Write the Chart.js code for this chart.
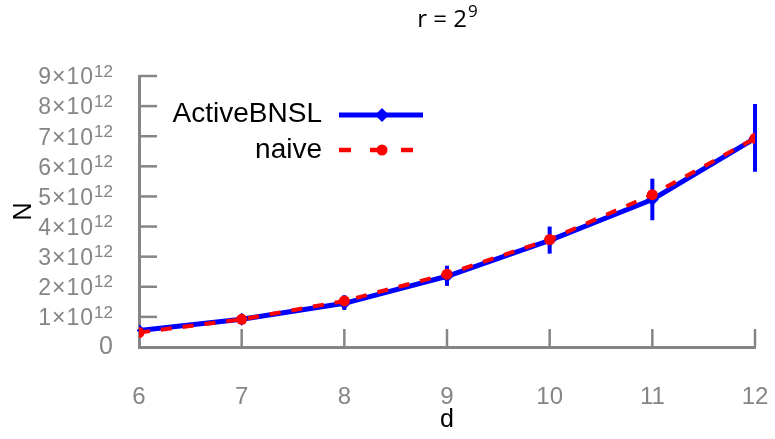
<!DOCTYPE html>
<html>
<head>
<meta charset="utf-8">
<script src="https://cdn.jsdelivr.net/npm/chart.js"></script>
<style>
  html, body { margin: 0; padding: 0; background: #fff; }
  #wrap { width: 775px; height: 439px; position: relative; }
</style>
</head>
<body>
<div id="wrap"><canvas id="chart"></canvas></div>
<script>
const dValues = [6, 7, 8, 9, 10, 11, 12];
const activeBNSL = [0.55e12, 0.92e12, 1.45e12, 2.35e12, 3.54e12, 4.9e12, 6.93e12];
const activeLow = [0.52e12, 0.89e12, 1.23e12, 2.03e12, 3.1e12, 4.21e12, 5.82e12];
const activeHigh = [0.58e12, 0.95e12, 1.72e12, 2.7e12, 4.0e12, 5.59e12, 8.07e12];
const naive = [0.48e12, 0.92e12, 1.53e12, 2.42e12, 3.57e12, 5.06e12, 6.93e12];
const yTickMantissas = [0, 1, 2, 3, 4, 5, 6, 7, 8, 9];

const GRAY = "#858585";
const SANS = "'Liberation Sans', Arial, sans-serif";

const toPoints = (ys) => dValues.map((d, i) => ({ x: d, y: ys[i] }));

// error bars for ActiveBNSL, drawn under the lines
const errorBarPlugin = {
    id: "errorBars",
    beforeDatasetsDraw(chart) {
        const { ctx, scales } = chart;
        ctx.save();
        ctx.strokeStyle = "#0000ff";
        ctx.lineWidth = 4;
        dValues.forEach((d, i) => {
            const x = scales.x.getPixelForValue(d);
            ctx.beginPath();
            ctx.moveTo(x, scales.y.getPixelForValue(activeLow[i]));
            ctx.lineTo(x, scales.y.getPixelForValue(activeHigh[i]));
            ctx.stroke();
        });
        ctx.restore();
    },
};

// inward ticks, y labels with exponents, title and legend
const decorPlugin = {
    id: "decor",
    afterDraw(chart) {
        const { ctx, scales, chartArea } = chart;
        const xs = scales.x, ys = scales.y;
        ctx.save();

        ctx.strokeStyle = GRAY;
        ctx.lineWidth = 2.5;
        ys.ticks.forEach((t) => {
            if (t.value === 0) return;
            const y = ys.getPixelForValue(t.value);
            ctx.beginPath();
            ctx.moveTo(chartArea.left, y);
            ctx.lineTo(chartArea.left + 18, y);
            ctx.stroke();
        });
        xs.ticks.forEach((t) => {
            if (t.value === dValues[0]) return;
            const x = xs.getPixelForValue(t.value);
            ctx.beginPath();
            ctx.moveTo(x, chartArea.bottom);
            ctx.lineTo(x, chartArea.bottom - 18);
            ctx.stroke();
        });

        // y tick labels
        ctx.fillStyle = GRAY;
        ctx.textBaseline = "middle";
        ctx.textAlign = "right";
        const right = 113;
        ys.ticks.forEach((t) => {
            const y = ys.getPixelForValue(t.value);
            const m = yTickMantissas[Math.round(t.value / 1e12)];
            if (m === 0) {
                ctx.font = "25px " + SANS;
                ctx.fillText("0", right, y);
                return;
            }
            ctx.font = "17px " + SANS;
            const sup = "12";
            const w = ctx.measureText(sup).width;
            ctx.fillText(sup, right, y - 4);
            ctx.font = "23px " + SANS;
            ctx.letterSpacing = "1px";
            ctx.fillText(m + "\u00d710", right - w, y + 2);
            ctx.letterSpacing = "0px";
        });

        // title r = 2^9
        ctx.fillStyle = "#000";
        ctx.textAlign = "left";
        ctx.font = "24px 'Open Sans', sans-serif";
        const base = "r = 2";
        const bw = ctx.measureText(base).width;
        ctx.font = "17px 'Open Sans', sans-serif";
        const ew = ctx.measureText("9").width;
        const tx = 447 - (bw + ew) / 2;
        ctx.font = "24px 'Open Sans', sans-serif";
        ctx.fillText(base, tx, 20);
        ctx.font = "17px 'Open Sans', sans-serif";
        ctx.fillText("9", tx + bw + 1, 12);

        // legend
        ctx.font = "28px " + SANS;
        ctx.textAlign = "right";
        ctx.fillText("ActiveBNSL", 322, 114);
        ctx.fillText("naive", 322, 150);

        ctx.strokeStyle = "#0000ff";
        ctx.lineWidth = 5;
        ctx.beginPath();
        ctx.moveTo(339, 115);
        ctx.lineTo(423, 115);
        ctx.stroke();
        ctx.fillStyle = "#0000ff";
        ctx.beginPath();
        ctx.moveTo(382, 108);
        ctx.lineTo(389, 115);
        ctx.lineTo(382, 122);
        ctx.lineTo(375, 115);
        ctx.closePath();
        ctx.fill();

        ctx.strokeStyle = "#ff0000";
        ctx.lineWidth = 4.5;
        ctx.setLineDash([12, 19]);
        ctx.beginPath();
        ctx.moveTo(339, 150);
        ctx.lineTo(423, 150);
        ctx.stroke();
        ctx.setLineDash([]);
        ctx.fillStyle = "#ff0000";
        ctx.beginPath();
        ctx.arc(382, 150, 5.5, 0, Math.PI * 2);
        ctx.fill();

        ctx.restore();
    },
};

new Chart(document.getElementById("chart"), {
    type: "line",
    data: {
        datasets: [
            {
                label: "naive",
                data: toPoints(naive),
                borderColor: "#ff0000",
                backgroundColor: "#ff0000",
                borderWidth: 4,
                borderDash: [11, 11],
                pointStyle: "circle",
                pointRadius: 5.5,
                pointBorderWidth: 0,
                tension: 0,
                order: 0,
            },
            {
                label: "ActiveBNSL",
                data: toPoints(activeBNSL),
                borderColor: "#0000ff",
                backgroundColor: "#0000ff",
                borderWidth: 5,
                pointStyle: "rectRot",
                pointRadius: 6.5,
                pointBorderWidth: 0,
                tension: 0,
                order: 1,
            },
        ],
    },
    options: {
        responsive: true,
        maintainAspectRatio: false,
        animation: false,
        events: [],
        layout: { padding: { top: 76, right: 20, left: 0, bottom: 0 } },
        plugins: {
            legend: { display: false },
            tooltip: { enabled: false },
        },
        scales: {
            x: {
                type: "linear",
                min: 6,
                max: 12,
                afterFit(scale) {
                    scale.height = 92;
                    scale.paddingLeft = 0;
                    scale.paddingRight = 0;
                },
                grid: { display: false, drawTicks: false },
                border: { display: true, color: GRAY, width: 3 },
                ticks: {
                    stepSize: 1,
                    color: GRAY,
                    font: { family: SANS, size: 24 },
                    padding: 36,
                },
                title: {
                    display: true,
                    text: "d",
                    color: "#000",
                    font: { family: SANS, size: 25 },
                    padding: { top: 0, bottom: 4 },
                },
            },
            y: {
                min: 0,
                max: 9e12,
                afterFit(scale) {
                    scale.width = 139;
                    scale.paddingTop = 0;
                    scale.paddingBottom = 0;
                },
                grid: { display: false, drawTicks: false },
                border: { display: true, color: GRAY, width: 3 },
                ticks: {
                    stepSize: 1e12,
                    callback: () => "",
                },
                title: {
                    display: true,
                    text: "N",
                    color: "#000",
                    font: { family: SANS, size: 25 },
                    padding: { top: 9, bottom: 0 },
                },
            },
        },
    },
    plugins: [errorBarPlugin, decorPlugin],
});
</script>
</body>
</html>
